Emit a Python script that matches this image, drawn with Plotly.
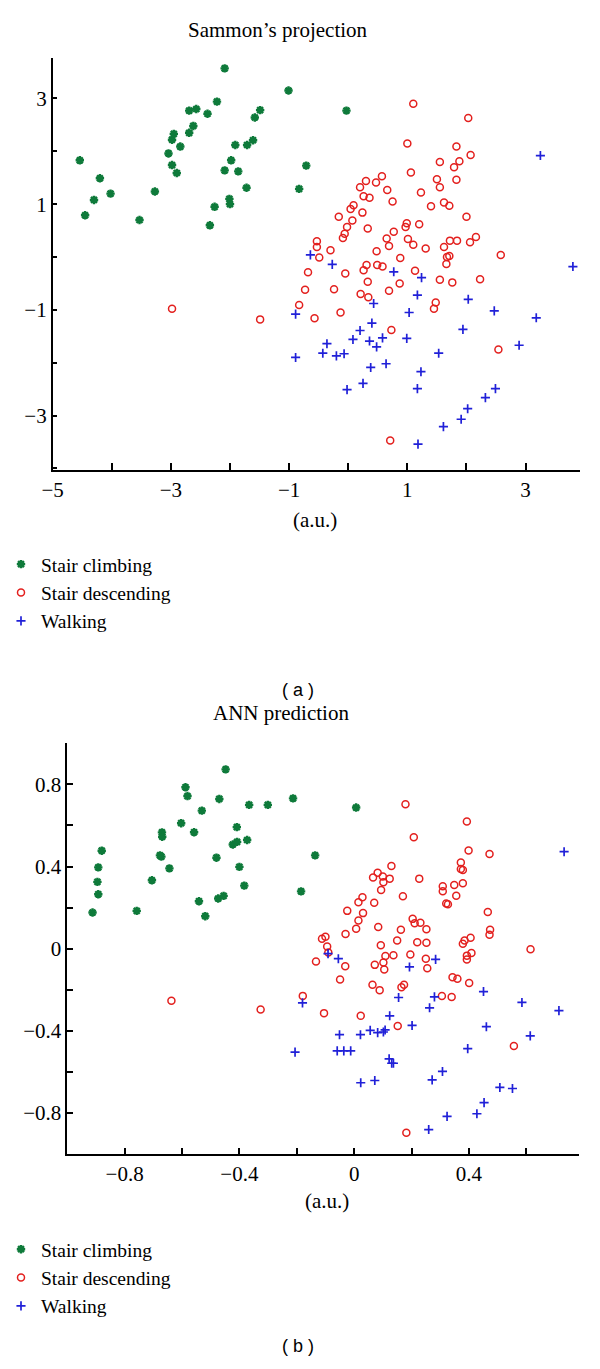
import plotly.graph_objects as go

# ---------------- Data: (a) Sammon's projection ----------------
a_climb_x = [-4.54, -4.45, -4.30, -4.20, -4.02, -3.53, -3.27, -3.04, -2.98, -2.98, -2.95, -2.90, -2.84,
             -2.69, -2.69, -2.62, -2.57, -2.38, -2.22, -2.09, -2.34, -2.26, -2.09, -2.01, -2.00, -1.98,
             -1.91, -1.86, -1.72, -1.71, -1.61, -1.58, -1.49, -1.01, -0.71, -0.83, -0.03]
a_climb_y = [1.83, 0.79, 1.08, 1.49, 1.20, 0.70, 1.24, 1.96, 1.74, 2.22, 2.33, 1.59, 2.09,
             2.35, 2.77, 2.48, 2.80, 2.71, 2.94, 3.57, 0.60, 0.95, 1.64, 1.10, 1.00, 1.83,
             2.12, 1.62, 1.31, 2.12, 2.21, 2.64, 2.78, 3.15, 1.73, 1.29, 2.77]

a_desc_x = [1.10, 1.00, 1.06, 1.23, 1.40, 0.57, 0.30, 0.47, 0.20, 0.66, 0.26, 0.36, 0.75, 0.09, 0.04,
            0.24, -0.16, 0.07, 0.99, 0.97, 1.20, -0.02, 0.33, 0.77, -0.06, -0.09, 0.65, 1.01, -0.53,
            -0.53, 0.69, 1.10, -0.30, 0.48, 1.31, -0.49, 0.88,
            2.03, 1.83, 2.07, 1.55, 1.88, 1.79, 1.50, 1.55, 1.83, 1.62, 1.71, 2.00, 1.62, 1.72, 1.84,
            2.06, 2.16, 2.58, 1.67, 1.71,
            -0.68, -0.05, 0.26, 0.31, 0.49, 0.58, 1.13, 0.33, 0.87, -0.73, -0.24, 0.21, 0.34, 0.69,
            -0.83, -0.57, -0.13, -1.49, 0.73, 0.71,
            -2.98,
            1.66, 1.55, 1.76, 2.23, 1.48, 1.45, 2.54]
a_desc_y = [2.90, 2.15, 1.60, 1.22, 0.96, 1.53, 1.44, 1.41, 1.32, 1.27, 1.15, 1.12, 1.05, 0.98, 0.91,
            0.84, 0.76, 0.69, 0.64, 0.57, 0.62, 0.57, 0.54, 0.48, 0.44, 0.36, 0.35, 0.34, 0.30,
            0.19, 0.21, 0.23, 0.13, 0.11, 0.16, -0.01, -0.02,
            2.63, 2.09, 1.93, 1.80, 1.81, 1.70, 1.47, 1.32, 1.46, 1.03, 0.97, 0.76, 0.19, 0.31, 0.31,
            0.28, 0.38, 0.04, 0.00, 0.02,
            -0.29, -0.31, -0.25, -0.15, -0.15, -0.18, -0.26, -0.47, -0.50, -0.62, -0.61, -0.70, -0.76, -0.64,
            -0.91, -1.16, -1.05, -1.18, -1.38, -3.47,
            -0.98,
            -0.13, -0.43, -0.48, -0.42, -0.86, -0.98, -1.75]

a_walk_x = [-0.64, 3.25, -0.27, 0.77, 1.24, 1.17, 0.43, -0.89, 1.03, 0.40, 0.20, 0.08, 0.36, 0.58,
            0.48, 0.99, -0.36, -0.43, -0.20, -0.07, -0.89, 0.38, 0.64, 1.23, -0.02, 0.25, 1.17, 1.18,
            3.80, 2.03, 2.47, 3.18, 1.94, 2.89, 1.53, 2.49, 2.32, 2.02, 1.91, 1.61]
a_walk_y = [0.04, 1.92, -0.14, -0.28, -0.39, -0.72, -0.88, -1.08, -1.05, -1.25, -1.39, -1.56, -1.59, -1.53,
            -1.70, -1.54, -1.64, -1.82, -1.87, -1.83, -1.90, -2.09, -2.02, -2.17, -2.51, -2.39, -2.49, -3.54,
            -0.18, -0.80, -1.02, -1.15, -1.37, -1.67, -1.82, -2.49, -2.66, -2.87, -3.07, -3.21]

a_xtick_vals = [-5, -4, -3, -2, -1, 0, 1, 2, 3]
a_xtick_text = ["\u22125", "", "\u22123", "", "\u22121", "", "1", "", "3"]
a_ytick_vals = [-4, -3, -2, -1, 0, 1, 2, 3]
a_ytick_text = ["", "\u22123", "", "\u22121", "", "1", "", "3"]

# ---------------- Data: (b) ANN prediction ----------------
b_climb_x = [-0.912, -0.895, -0.892, -0.892, -0.880, -0.758, -0.705, -0.677, -0.672, -0.670, -0.669,
             -0.644, -0.603, -0.588, -0.581, -0.558, -0.541, -0.531, -0.519, -0.480, -0.474, -0.470,
             -0.455, -0.448, -0.423, -0.409, -0.408, -0.400, -0.373, -0.383, -0.366, -0.301, -0.213,
             -0.136, -0.185, 0.007]
b_climb_y = [0.176, 0.325, 0.396, 0.265, 0.477, 0.184, 0.333, 0.454, 0.448, 0.566, 0.545,
             0.391, 0.611, 0.786, 0.743, 0.567, 0.231, 0.672, 0.158, 0.443, 0.244, 0.729,
             0.257, 0.873, 0.507, 0.592, 0.520, 0.398, 0.529, 0.307, 0.700, 0.700, 0.732,
             0.454, 0.279, 0.687]

b_desc_x = [0.179, 0.208, 0.130, 0.082, 0.066, 0.100, 0.102, 0.124, 0.227, 0.094, 0.029, 0.015, 0.070,
            0.170, -0.024, 0.031, 0.015, 0.204, 0.211, 0.231, 0.007, 0.084, 0.163, 0.252, -0.030, -0.112,
            -0.100, -0.094, 0.093, 0.150, 0.220, 0.252,
            0.393, 0.399, 0.472, 0.372, 0.372, 0.379, 0.309, 0.309, 0.349, 0.379, 0.356, 0.321, 0.327,
            0.466, 0.474, 0.472, 0.406, 0.385, 0.379, 0.615,
            -0.090, -0.133, -0.031, 0.072, 0.102, 0.109, 0.137, 0.105, 0.196, 0.250, 0.255, -0.049, 0.064,
            0.089, 0.165, 0.174, -0.179, -0.326, -0.105, 0.023, 0.152, 0.182,
            -0.637,
            0.393, 0.409, 0.393, 0.343, 0.360, 0.401, 0.306, 0.340, 0.557]
b_desc_y = [0.703, 0.543, 0.402, 0.370, 0.347, 0.351, 0.323, 0.341, 0.341, 0.286, 0.250, 0.226, 0.223,
            0.255, 0.184, 0.173, 0.137, 0.145, 0.124, 0.126, 0.097, 0.105, 0.092, 0.094, 0.071, 0.048,
            0.058, 0.011, 0.017, 0.040, 0.031, 0.029,
            0.619, 0.478, 0.461, 0.420, 0.388, 0.383, 0.304, 0.279, 0.310, 0.318, 0.258, 0.220, 0.216,
            0.178, 0.092, 0.068, 0.053, 0.040, 0.024, -0.003,
            -0.019, -0.063, -0.086, -0.079, -0.068, -0.036, -0.032, -0.102, -0.029, -0.049, -0.096, -0.150, -0.176,
            -0.202, -0.188, -0.176, -0.230, -0.296, -0.314, -0.327, -0.377, -0.896,
            -0.254,
            -0.034, -0.021, -0.053, -0.139, -0.147, -0.167, -0.231, -0.235, -0.474]

b_walk_x = [0.732, -0.091, -0.055, 0.193, 0.155, 0.263, -0.180, 0.124, 0.202, 0.056, 0.082, 0.102, 0.108,
            0.022, -0.051, -0.206, -0.059, -0.036, -0.012, 0.122, 0.131, 0.137, 0.023, 0.072, 0.260,
            0.284, 0.280, 0.451, 0.585, 0.714, 0.461, 0.614, 0.396, 0.308, 0.272, 0.508, 0.552, 0.453,
            0.428, 0.324]
b_walk_y = [0.472, -0.024, -0.049, -0.089, -0.238, -0.288, -0.264, -0.327, -0.374, -0.398, -0.409, -0.406, -0.396,
            -0.419, -0.419, -0.504, -0.498, -0.498, -0.498, -0.537, -0.558, -0.558, -0.653, -0.642, -0.881,
            -0.052, -0.235, -0.209, -0.262, -0.302, -0.380, -0.425, -0.487, -0.598, -0.639, -0.676, -0.681, -0.750,
            -0.804, -0.817]

b_xtick_vals = [-0.8, -0.6, -0.4, -0.2, 0, 0.2, 0.4, 0.6]
b_xtick_text = ["\u22120.8", "", "\u22120.4", "", "0", "", "0.4", ""]
b_ytick_vals = [-0.8, -0.6, -0.4, -0.2, 0, 0.2, 0.4, 0.6, 0.8]
b_ytick_text = ["\u22120.8", "", "\u22120.4", "", "0", "", "0.4", "", "0.8"]

series_names = ["Stair climbing", "Stair descending", "Walking"]

# ---------------- Styling ----------------
W, H = 600, 1369
OFF = 8  # page body margin offset compensation (screen px)
SERIF = "Liberation Serif"
GREEN = "#0e7a3a"
RED = "#e3201e"
BLUE = "#2020d8"


def px_x(p):
    return (p - OFF) / W


def px_y(p):
    return 1 - (p - OFF) / H


fig = go.Figure()

marker_styles = [
    dict(symbol="asterisk-open", size=7, color=GREEN, line=dict(color=GREEN, width=2.4)),
    dict(symbol="circle-open", size=7, color=RED, line=dict(color=RED, width=1.5)),
    dict(symbol="cross-thin-open", size=6.5, color=BLUE, line=dict(color=BLUE, width=1.7)),
]

a_sets = [(a_climb_x, a_climb_y), (a_desc_x, a_desc_y), (a_walk_x, a_walk_y)]
b_sets = [(b_climb_x, b_climb_y), (b_desc_x, b_desc_y), (b_walk_x, b_walk_y)]

for i, (xs, ys) in enumerate(a_sets):
    fig.add_trace(go.Scatter(x=xs, y=ys, mode="markers", name=series_names[i],
                             marker=marker_styles[i], xaxis="x", yaxis="y", legend="legend"))
for i, (xs, ys) in enumerate(b_sets):
    fig.add_trace(go.Scatter(x=xs, y=ys, mode="markers", name=series_names[i],
                             marker=marker_styles[i], xaxis="x2", yaxis="y2", legend="legend2"))

axis_common = dict(showline=True, linecolor="black", linewidth=1.5, ticks="inside",
                   tickwidth=1.5, tickcolor="black", showgrid=False, zeroline=False,
                   tickfont=dict(family=SERIF, size=21, color="black"), tickmode="array")

legend_common = dict(xanchor="left", yanchor="top",
                     font=dict(family=SERIF, size=19.5, color="black"), bgcolor="rgba(0,0,0,0)",
                     tracegroupgap=0, itemsizing="trace")

fig.update_layout(
    width=W, height=H,
    margin=dict(l=0, r=0, t=0, b=0, autoexpand=False),
    paper_bgcolor="white", plot_bgcolor="white",
    showlegend=True,
    xaxis=dict(domain=[px_x(52.6), px_x(580)], range=[-5, 3.92], anchor="y",
               tickvals=a_xtick_vals, ticktext=a_xtick_text, ticklen=7, **axis_common),
    yaxis=dict(domain=[px_y(470), px_y(58.3)], range=[-4.03, 3.76], anchor="x",
               tickvals=a_ytick_vals, ticktext=a_ytick_text, ticklen=5, **axis_common),
    xaxis2=dict(domain=[px_x(67.3), px_x(579.3)], range=[-1.0, 0.785], anchor="y2",
                tickvals=b_xtick_vals, ticktext=b_xtick_text, ticklen=6, **axis_common),
    yaxis2=dict(domain=[px_y(1154), px_y(743.3)], range=[-1.0, 1.0], anchor="x2",
                tickvals=b_ytick_vals, ticktext=b_ytick_text, ticklen=6, **axis_common),
    legend=dict(x=px_x(1), y=px_y(545), **legend_common),
    legend2=dict(x=px_x(1), y=px_y(1230), **legend_common),
)

ann_font = dict(family=SERIF, size=21, color="black")
sans_font = dict(family="Liberation Sans", size=18, color="black")
annotations = [
    dict(text="Sammon\u2019s projection", x=px_x(278), y=px_y(30), font=ann_font),
    dict(text="(a.u.)", x=px_x(315), y=px_y(520), font=ann_font),
    dict(text="( a )", x=px_x(298), y=px_y(690), font=sans_font),
    dict(text="ANN prediction", x=px_x(281), y=px_y(713), font=ann_font),
    dict(text="(a.u.)", x=px_x(327), y=px_y(1201), font=ann_font),
    dict(text="( b )", x=px_x(298), y=px_y(1346), font=sans_font),
]
for a in annotations:
    fig.add_annotation(xref="paper", yref="paper", xanchor="center", yanchor="middle",
                       showarrow=False, **a)

fig.write_html("out.html")
